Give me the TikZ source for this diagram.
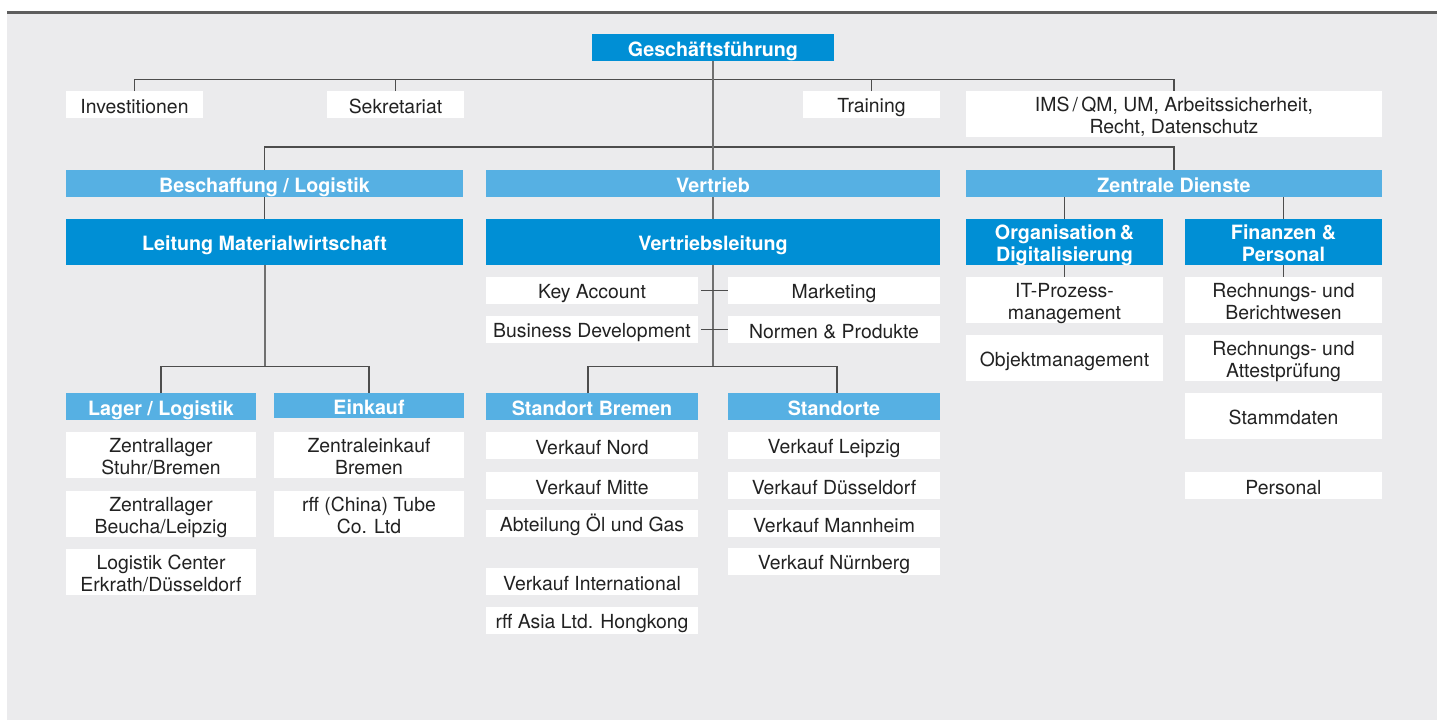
\documentclass[tikz,border=0pt]{standalone}
\usepackage{fontspec}
\setmainfont{TeX Gyre Heros}
\definecolor{bgc}{HTML}{EBEBED}
\definecolor{topln}{HTML}{5E5E5E}
\definecolor{dblue}{HTML}{008FD5}
\definecolor{lblue}{HTML}{56B0E3}
\definecolor{txt}{HTML}{222222}
\definecolor{ln}{HTML}{4D4D4D}
\definecolor{lnm}{HTML}{707070}
\tikzset{
 base/.style={inner sep=0pt, outer sep=0pt, draw=none},
 wbox/.style={base, fill=white},
 hbox/.style={base, fill=lblue},
 dbox/.style={base, fill=dblue},
 wboxtxt/.style={base, align=center, text=txt, font=\fontsize{19.4}{21.6}\selectfont},
 hboxtxt/.style={base, align=center, text=white, font=\bfseries\fontsize{19.7}{22}\selectfont},
 dboxtxt/.style={base, align=center, text=white, font=\bfseries\fontsize{19.7}{22}\selectfont},
 conn/.style={draw=ln, line width=1.2pt},
 mainconn/.style={draw=lnm, line width=2pt},
}
\newcommand\bx[7]{%
 \node[#2, minimum width={(#5-#3)*1pt}, minimum height={(#6-#4)*1pt}] (#1) at ({(#3+#5)/2},{(#4+#6)/2}) {};
 \node[#2txt] (#1t) at (#1.center) {\rule{0pt}{21.6pt}#7\rule[-4pt]{0pt}{4pt}};}
\begin{document}
\begin{tikzpicture}[x=1pt,y=-1pt]
\useasboundingbox (0,0) rectangle (1442,720);
\fill[bgc] (7,14) rectangle (1437,720);
\fill[topln] (7,11) rectangle (1437,14);

\bx{gf}{dbox}{592}{34}{834}{61}{Geschäftsführung}
\bx{inv}{wbox}{66}{91}{203}{117.5}{Investitionen}
\bx{sek}{wbox}{327}{91}{464}{117.5}{Sekretariat}
\bx{tr}{wbox}{803}{91}{940}{117.5}{Training}
\bx{ims}{wbox}{966}{91}{1382}{136.5}{IMS\,/\,QM, UM, Arbeitssicherheit,\\Recht, Datenschutz}
\bx{bl}{hbox}{66}{170}{463}{197}{Beschaffung / Logistik}
\bx{vt}{hbox}{486}{170}{940}{197}{Vertrieb}
\bx{zd}{hbox}{966}{170}{1382}{197}{Zentrale Dienste}
\bx{lm}{dbox}{66}{219}{463}{265}{Leitung Materialwirtschaft}
\bx{vl}{dbox}{486}{219}{940}{265}{Vertriebsleitung}
\bx{od}{dbox}{966}{219}{1163}{265}{Organisation\,\&\\Digitalisierung}
\bx{fp}{dbox}{1185}{219}{1382}{265}{Finanzen \&\\Personal}
\bx{ka}{wbox}{486}{277}{698}{303.5}{Key Account}
\bx{mk}{wbox}{728}{277}{940}{303.5}{Marketing}
\bx{bd}{wbox}{486}{316}{698}{342.5}{Business Development}
\bx{np}{wbox}{728}{316}{940}{342.5}{Normen \& Produkte}
\bx{sb}{hbox}{486}{393}{698}{420}{Standort Bremen}
\bx{so}{hbox}{728}{393}{940}{420}{Standorte}
\bx{vn}{wbox}{486}{432}{698}{458.5}{Verkauf Nord}
\bx{vm}{wbox}{486}{472}{698}{498.5}{Verkauf Mitte}
\bx{og}{wbox}{486}{510}{698}{536.5}{Abteilung Öl und Gas}
\bx{vi}{wbox}{486}{568}{698}{594.5}{Verkauf International}
\bx{ra}{wbox}{486}{606.5}{698}{633.5}{rff Asia Ltd. Hongkong}
\bx{vlp}{wbox}{728}{432}{940}{458.5}{Verkauf Leipzig}
\bx{vd}{wbox}{728}{472}{940}{498.5}{Verkauf Düsseldorf}
\bx{vma}{wbox}{728}{510}{940}{536.5}{Verkauf Mannheim}
\bx{vnu}{wbox}{728}{548}{940}{574.5}{Verkauf Nürnberg}
\bx{ll}{hbox}{66}{393}{256}{420}{Lager / Logistik}
\bx{ek}{hbox}{274}{393}{464}{418}{Einkauf}
\bx{zs}{wbox}{66}{432}{256}{477.5}{Zentrallager\\Stuhr/Bremen}
\bx{zb}{wbox}{66}{491}{256}{536.5}{Zentrallager\\Beucha/Leipzig}
\bx{lc}{wbox}{66}{549}{256}{594.5}{Logistik Center\\Erkrath/Düsseldorf}
\bx{ze}{wbox}{274}{432}{464}{477.5}{Zentraleinkauf\\Bremen}
\bx{rc}{wbox}{274}{491}{464}{536.5}{rff (China) Tube\\Co. Ltd}
\bx{it}{wbox}{966}{277}{1163}{322.5}{IT-Prozess-\\management}
\bx{om}{wbox}{966}{335}{1163}{380.5}{Objektmanagement}
\bx{rb}{wbox}{1185}{277}{1382}{322.5}{Rechnungs- und\\Berichtwesen}
\bx{rp}{wbox}{1185}{335}{1382}{380.5}{Rechnungs- und\\Attestprüfung}
\bx{st}{wbox}{1185}{393}{1382}{438.5}{Stammdaten}
\bx{pe}{wbox}{1185}{472}{1382}{498.5}{Personal}

\coordinate (b1) at (713,79.5);
\coordinate (b2) at (713,147);
\coordinate (b3) at (713,366.5);
\coordinate (b4) at (lm.south |- b3);

\draw[conn] (inv.north) |- (b1) -| (ims.north);
\draw[conn] (sek.north) -- (sek.north |- b1);
\draw[conn] (tr.north) -- (tr.north |- b1);
\draw[conn] (bl.north) |- (b2) -| (zd.north);
\draw[mainconn] (gf.south) -- (vt.north);
\draw[mainconn] (vt.south) -- (vl.north);
\draw[mainconn] (vl.south) -- (b3);
\draw[conn] (bl.south) -- (lm.north);
\draw[mainconn] (lm.south) -- (b4);
\draw[conn] (ll.north) |- (b4) -| (ek.north);
\draw[conn] ([xshift=-4pt]sb.north) |- (b3) -| ([xshift=3pt]so.north);
\draw[conn] (zd.south -| od.north) -- (od.north);
\draw[conn] (zd.south -| fp.north) -- (fp.north);
\draw[conn] (od.south) -- (it.north);
\draw[conn] (fp.south) -- (rb.north);
\draw[conn] ([xshift=3pt]ka.east) -- (mk.west);
\draw[conn] ([xshift=3pt]bd.east) -- (np.west);
\end{tikzpicture}
\end{document}
